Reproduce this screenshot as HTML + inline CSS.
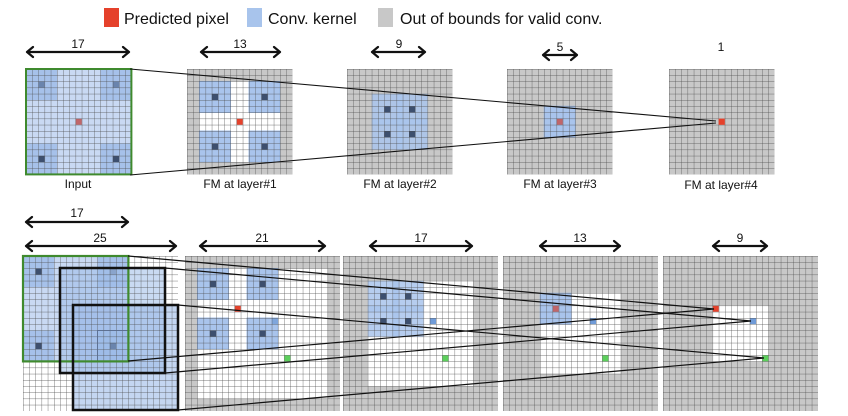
<!DOCTYPE html>
<html><head><meta charset="utf-8"><style>
html,body{margin:0;padding:0;background:#fff;}
svg{display:block;}
text{font-family:"Liberation Sans",sans-serif;fill:#111;}
</style></head><body>
<svg width="848" height="416" viewBox="0 0 848 416" xmlns="http://www.w3.org/2000/svg">
<defs>
<pattern id="g" width="6.2" height="6.2" patternUnits="userSpaceOnUse">
<path d="M0 0H6.2M0 0V6.2" stroke="#4a4a4a" stroke-width="0.7" fill="none"/>
</pattern>
</defs>

<!-- legend -->
<rect x="104" y="8" width="15" height="19" fill="#e5412b"/>
<text x="124" y="24" font-size="16">Predicted pixel</text>
<rect x="247" y="8" width="15" height="19" fill="#a8c4ec"/>
<text x="268" y="24" font-size="16">Conv. kernel</text>
<rect x="378" y="8" width="15" height="19" fill="#c8c8c8"/>
<text x="400" y="24" font-size="16">Out of bounds for valid conv.</text>

<!-- arrows helper style -->
<g stroke="#111" stroke-width="2.2" fill="none" stroke-linecap="round" stroke-linejoin="round">
<!-- top -->
<path d="M27 52H129M33 47L27 52L33 57M123 47L129 52L123 57"/>
<path d="M201 52H280M207 47L201 52L207 57M274 47L280 52L274 57"/>
<path d="M372 52H425M378 47L372 52L378 57M419 47L425 52L419 57"/>
<path d="M543 55H577M549 50L543 55L549 60M571 50L577 55L571 60"/>
<!-- bottom -->
<path d="M26 222H128M32 217L26 222L32 227M122 217L128 222L122 227"/>
<path d="M26 246H176M32 241L26 246L32 251M170 241L176 246L170 251"/>
<path d="M200 246H325M206 241L200 246L206 251M319 241L325 246L319 251"/>
<path d="M370 246H472M376 241L370 246L376 251M466 241L472 246L466 251"/>
<path d="M540 246H620M546 241L540 246L546 251M614 241L620 246L614 251"/>
<path d="M713 246H767M719 241L713 246L719 251M761 241L767 246L761 251"/>
</g>
<g font-size="12" text-anchor="middle">
<text x="78" y="48">17</text>
<text x="240" y="48">13</text>
<text x="399" y="48">9</text>
<text x="560" y="51">5</text>
<text x="721" y="51">1</text>
<text x="77" y="217">17</text>
<text x="100" y="242">25</text>
<text x="262" y="242">21</text>
<text x="421" y="242">17</text>
<text x="580" y="242">13</text>
<text x="740" y="242">9</text>
</g>
<g font-size="12" text-anchor="middle">
<text x="78" y="188">Input</text>
<text x="240" y="188">FM at layer#1</text>
<text x="400" y="188">FM at layer#2</text>
<text x="560" y="188">FM at layer#3</text>
<text x="721" y="189">FM at layer#4</text>
</g>

<!-- TOP panel 1 -->
<g transform="translate(26,69)">
<rect width="105.4" height="105.4" fill="#c9d9f3"/>
<g fill="#a6c1ea"><rect width="31" height="31"/><rect x="74.4" width="31" height="31"/><rect y="74.4" width="31" height="31"/><rect x="74.4" y="74.4" width="31" height="31"/></g>
<g fill="#6a84ad"><rect x="12.4" y="12.4" width="6.2" height="6.2"/><rect x="86.8" y="12.4" width="6.2" height="6.2"/></g>
<g fill="#3d4f6e"><rect x="12.4" y="86.8" width="6.2" height="6.2"/><rect x="86.8" y="86.8" width="6.2" height="6.2"/></g>
<rect x="49.6" y="49.6" width="6.2" height="6.2" fill="#c0666a"/>
<rect width="105.4" height="105.4" fill="url(#g)"/>
<rect width="105.4" height="105.4" fill="none" stroke="#3f8a2e" stroke-width="2"/>
</g>
<!-- TOP panel 2 -->
<g transform="translate(187,69)">
<rect width="105.4" height="105.4" fill="#c8c8c8"/>
<rect x="12.4" y="12.4" width="80.6" height="80.6" fill="#fff"/>
<g fill="#a9c4ec" stroke="#8fb0e0" stroke-width="0.8"><rect x="12.4" y="12.4" width="31" height="31"/><rect x="62" y="12.4" width="31" height="31"/><rect x="12.4" y="62" width="31" height="31"/><rect x="62" y="62" width="31" height="31"/></g>
<g fill="#3d4f6e"><rect x="24.8" y="24.8" width="6.2" height="6.2"/><rect x="74.4" y="24.8" width="6.2" height="6.2"/><rect x="24.8" y="74.4" width="6.2" height="6.2"/><rect x="74.4" y="74.4" width="6.2" height="6.2"/></g>
<rect x="49.6" y="49.6" width="6.2" height="6.2" fill="#e5412b"/>
<rect width="105.4" height="105.4" fill="url(#g)"/>
</g>
<!-- TOP panel 3 -->
<g transform="translate(347,69)">
<rect width="105.4" height="105.4" fill="#c8c8c8"/>
<g fill="#a9c4ec" fill-opacity="0.85"><rect x="24.8" y="24.8" width="31" height="31"/><rect x="49.6" y="24.8" width="31" height="31"/><rect x="24.8" y="49.6" width="31" height="31"/><rect x="49.6" y="49.6" width="31" height="31"/></g>
<g fill="#3d4f6e"><rect x="37.2" y="37.2" width="6.2" height="6.2"/><rect x="62" y="37.2" width="6.2" height="6.2"/><rect x="37.2" y="62" width="6.2" height="6.2"/><rect x="62" y="62" width="6.2" height="6.2"/></g>
<rect width="105.4" height="105.4" fill="url(#g)"/>
</g>
<!-- TOP panel 4 -->
<g transform="translate(507,69)">
<rect width="105.4" height="105.4" fill="#c8c8c8"/>
<rect x="37.2" y="37.2" width="31" height="31" fill="#a9c4ec" stroke="#8fb0e0" stroke-width="0.8"/>
<rect x="49.6" y="49.6" width="6.2" height="6.2" fill="#c0666a"/>
<rect width="105.4" height="105.4" fill="url(#g)"/>
</g>
<!-- TOP panel 5 -->
<g transform="translate(669,69)">
<rect width="105.4" height="105.4" fill="#c8c8c8"/>
<rect width="105.4" height="105.4" fill="url(#g)"/>
<rect x="49.6" y="49.6" width="6.2" height="6.2" fill="#e5412b"/>
</g>
<g stroke="#111" stroke-width="1.1">
<line x1="130" y1="69" x2="716" y2="121"/>
<line x1="130" y1="175" x2="716" y2="123"/>
</g>

<!-- BOTTOM panel 1 -->
<g transform="translate(23,256)">
<rect width="155" height="155" fill="#fff"/>
<rect width="105.4" height="105.4" fill="#c9d9f3"/>
<g fill="#a6c1ea"><rect width="31" height="31"/><rect x="74.4" width="31" height="31"/><rect y="74.4" width="31" height="31"/><rect x="74.4" y="74.4" width="31" height="31"/></g>
<rect x="37" y="12" width="105" height="105" fill="#9dbbe8" fill-opacity="0.55"/>
<rect x="50" y="49" width="105" height="105" fill="#9dbbe8" fill-opacity="0.6"/>
<g fill="#3d4f6e"><rect x="12.4" y="12.4" width="6.2" height="6.2"/><rect x="12.4" y="86.8" width="6.2" height="6.2"/><rect x="86.8" y="86.8" width="6.2" height="6.2" fill="#6a84ad"/><rect x="86.8" y="12.4" width="6.2" height="6.2" fill="#8aa4cc"/></g>
<rect width="155" height="155" fill="url(#g)"/>
<rect x="74.4" y="74.4" width="31" height="31" fill="none" stroke="#5a6f95" stroke-width="0.8"/>
<rect width="105.4" height="105.4" fill="none" stroke="#3f8a2e" stroke-width="2.2"/>
<rect x="37" y="12" width="105" height="105" fill="none" stroke="#111" stroke-width="2.5"/>
<rect x="50" y="49" width="105" height="105" fill="none" stroke="#111" stroke-width="2.5"/>
</g>
<!-- BOTTOM panel 2 -->
<g transform="translate(185,256)">
<rect width="155" height="155" fill="#c8c8c8"/>
<rect x="12.4" y="12.4" width="130.2" height="130.2" fill="#fff"/>
<g fill="#a9c4ec" stroke="#8fb0e0" stroke-width="0.8"><rect x="12.4" y="12.4" width="31" height="31"/><rect x="62" y="12.4" width="31" height="31"/><rect x="12.4" y="62" width="31" height="31"/><rect x="62" y="62" width="31" height="31"/></g>
<g fill="#3d4f6e"><rect x="24.8" y="24.8" width="6.2" height="6.2"/><rect x="74.4" y="24.8" width="6.2" height="6.2"/><rect x="24.8" y="74.4" width="6.2" height="6.2"/><rect x="74.4" y="74.4" width="6.2" height="6.2"/></g>
<rect x="49.6" y="49.6" width="6.2" height="6.2" fill="#e5412b"/>
<rect x="86.8" y="62" width="6.2" height="6.2" fill="#7fa6dc"/>
<rect x="99.2" y="99.2" width="6.2" height="6.2" fill="#5ccf5c"/>
<rect width="155" height="155" fill="url(#g)"/>
</g>
<!-- BOTTOM panel 3 -->
<g transform="translate(343,256)">
<rect width="155" height="155" fill="#c8c8c8"/>
<rect x="24.8" y="24.8" width="105.4" height="105.4" fill="#fff"/>
<g fill="#a9c4ec" fill-opacity="0.85"><rect x="24.8" y="24.8" width="31" height="31"/><rect x="49.6" y="24.8" width="31" height="31"/><rect x="24.8" y="49.6" width="31" height="31"/><rect x="49.6" y="49.6" width="31" height="31"/></g>
<g fill="#3d4f6e"><rect x="37.2" y="37.2" width="6.2" height="6.2"/><rect x="62" y="37.2" width="6.2" height="6.2"/><rect x="37.2" y="62" width="6.2" height="6.2"/><rect x="62" y="62" width="6.2" height="6.2"/></g>
<rect x="86.8" y="62" width="6.2" height="6.2" fill="#6f9bd8"/>
<rect x="99.2" y="99.2" width="6.2" height="6.2" fill="#5ccf5c"/>
<rect width="155" height="155" fill="url(#g)"/>
</g>
<!-- BOTTOM panel 4 -->
<g transform="translate(503,256)">
<rect width="155" height="155" fill="#c8c8c8"/>
<rect x="37.2" y="37.2" width="80.6" height="80.6" fill="#fff"/>
<rect x="37.2" y="37.2" width="31" height="31" fill="#a9c4ec" stroke="#8fb0e0" stroke-width="0.8"/>
<rect x="49.6" y="49.6" width="6.2" height="6.2" fill="#c0666a"/>
<rect x="86.8" y="62" width="6.2" height="6.2" fill="#6f9bd8"/>
<rect x="99.2" y="99.2" width="6.2" height="6.2" fill="#5ccf5c"/>
<rect width="155" height="155" fill="url(#g)"/>
</g>
<!-- BOTTOM panel 5 -->
<g transform="translate(663,256)">
<rect width="155" height="155" fill="#c8c8c8"/>
<rect x="49.6" y="49.6" width="55.8" height="55.8" fill="#fff"/>
<rect x="49.6" y="49.6" width="6.2" height="6.2" fill="#e5412b"/>
<rect x="86.8" y="62" width="6.2" height="6.2" fill="#6f9bd8"/>
<rect x="99.2" y="99.2" width="6.2" height="6.2" fill="#5ccf5c"/>
<rect width="155" height="155" fill="url(#g)"/>
</g>
<g stroke="#111" stroke-width="1.2">
<line x1="128" y1="256" x2="714" y2="309"/>
<line x1="128" y1="361" x2="714" y2="309"/>
<line x1="165" y1="268" x2="751" y2="321"/>
<line x1="165" y1="373" x2="751" y2="321"/>
<line x1="178" y1="305" x2="764" y2="358"/>
<line x1="178" y1="410" x2="764" y2="358"/>
</g>
</svg>
</body></html>
